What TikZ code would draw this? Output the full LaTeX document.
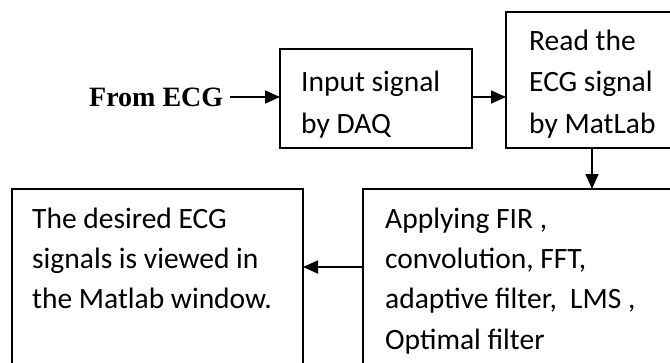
\documentclass[tikz,border=0pt]{standalone}
\usepackage{fontspec}
\setmainfont{Carlito}
\newfontfamily\tnr{Liberation Serif}
\usetikzlibrary{arrows.meta}
\tikzset{
  box/.style={draw=black, line width=1.7pt, fill=none, inner sep=0pt, outer sep=0pt, anchor=north west},
  txt/.style={inner sep=0pt, anchor=base west, font=\fontsize{29.5}{35}\selectfont},
  arr/.style={line width=1.7pt, -{Triangle[length=15pt,width=13pt]}}
}
\begin{document}
\begin{tikzpicture}[x=1pt,y=-1pt]
\useasboundingbox (0,0) rectangle (670,362);
\clip (0,0) rectangle (670,362);
\fill[white] (0,0) rectangle (670,362);
% boxes
\node[box, minimum width=192pt, minimum height=99pt] (b1) at (280,49) {};
\node[box, minimum width=170pt, minimum height=136pt] (b2) at (506,12) {};
\node[box, minimum width=310pt, minimum height=190pt] (b3) at (363,189) {};
\node[box, minimum width=291pt, minimum height=190pt] (b4) at (12,189) {};
% texts
\node[txt, font=\tnr\bfseries\fontsize{28}{34}\selectfont] (from) at (89,106) {From ECG};
\node[txt] (t1a) at (301,91) {Input signal};
\node[txt] (t1b) at (301,133) {by DAQ};
\node[txt] (t2a) at (529,50) {Read the};
\node[txt] (t2b) at (529,91) {ECG signal};
\node[txt] (t2c) at (529,133) {by MatLab};
\node[txt] (t3a) at (385,228) {Applying FIR ,};
\node[txt] (t3b) at (385,268) {convolution, FFT,};
\node[txt] (t3c) at (385,308) {adaptive filter,\ \ LMS ,};
\node[txt] (t3d) at (385,349) {Optimal filter};
\node[txt] (t4a) at (32,228) {The desired ECG};
\node[txt] (t4b) at (32,268) {signals is viewed in};
\node[txt] (t4c) at (32,308) {the Matlab window.};
% connectors
\coordinate (fa) at ([xshift=7pt]from.east);
\draw[arr] (fa |- 0,97) -- (b1.west |- 0,97);
\draw[arr] (b1.east |- 0,97) -- (b2.west |- 0,97);
\draw[arr] (b2.south -| 592,0) -- (b3.north -| 592,0);
\draw[arr] (b3.west |- 0,267) -- (b4.east |- 0,267);
\end{tikzpicture}
\end{document}
